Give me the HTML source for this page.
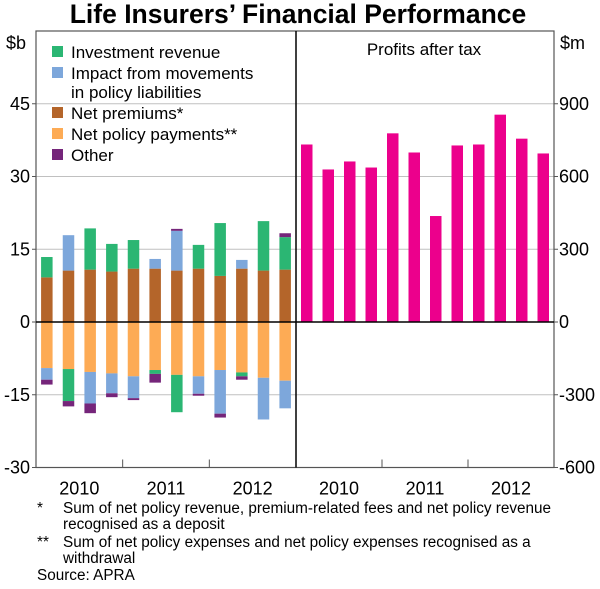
<!DOCTYPE html>
<html><head><meta charset="utf-8"><style>
body{margin:0;background:#fff;}
svg text{font-family:"Liberation Sans",Arial,sans-serif;fill:#000;}
</style></head><body>
<svg id="chart" width="600" height="584" viewBox="0 0 600 584" xmlns="http://www.w3.org/2000/svg">
<text x="298" y="23" text-anchor="middle" font-size="26.5" font-weight="bold">Life Insurers’ Financial Performance</text>
<g id="grid"></g>
<g id="bars"></g>
<g id="axes"></g>
<text x="6" y="49" font-size="18">$b</text>
<text x="560" y="49" font-size="18">$m</text>
<text x="424" y="55" text-anchor="middle" font-size="17">Profits after tax</text>
<g font-size="17">
<rect x="52" y="46" width="11" height="11" fill="#2bb673"/><text x="71" y="58">Investment revenue</text>
<rect x="52" y="67" width="11" height="11" fill="#7da7db"/><text x="71" y="79">Impact from movements</text><text x="71" y="98">in policy liabilities</text>
<rect x="52" y="107" width="11" height="11" fill="#b4652a"/><text x="71" y="119">Net premiums*</text>
<rect x="52" y="128" width="11" height="11" fill="#fdab55"/><text x="71" y="140">Net policy payments**</text>
<rect x="52" y="149" width="11" height="11" fill="#75257a"/><text x="71" y="161">Other</text>
</g>
<g font-size="15.3">
<text x="37" y="513">*</text><text x="63" y="513">Sum of net policy revenue, premium-related fees and net policy revenue</text>
<text x="63" y="529">recognised as a deposit</text>
<text x="37" y="547">**</text><text x="63" y="547">Sum of net policy expenses and net policy expenses recognised as a</text>
<text x="63" y="563">withdrawal</text>
<text x="37" y="580">Source: APRA</text>
</g>
</svg>
<script>
const investment=[4.2,0,8.5,5.7,5.9,0,0,4.9,10.9,0,10.2,6.7];
const investmentNeg=[0,-6.6,0,0,0,-0.8,-7.7,0,0,-0.8,0,0];
const impact=[0,7.3,0,0,0,2.0,8.2,0,0,1.8,0,0];
const impactNeg=[-2.4,0,-6.5,-4.1,-4.5,0,0,-3.6,-9.0,0,-8.6,-5.7];
const premiums=[9.2,10.6,10.8,10.4,11.0,11.0,10.6,11.0,9.5,11.0,10.6,10.8];
const payments=[-9.5,-9.7,-10.3,-10.6,-11.2,-9.9,-10.9,-11.2,-9.9,-10.4,-11.5,-12.1];
const otherPos=[0,0,0,0,0,0,0.4,0,0,0,0,0.8];
const otherNeg=[-1.0,-1.1,-2.0,-0.8,-0.4,-1.8,0,-0.4,-0.8,-0.7,0,0];
const profits=[732,629,662,637,778,699,437,728,732,855,756,695];
const years=["2010","2011","2012"];
const leftTicks=[-30,-15,0,15,30,45];
const rightTicks=[-600,-300,0,300,600,900];

const NS="http://www.w3.org/2000/svg";
const yTop=31,yBot=467.5,L0=36,Lmid=296,R1=554;
const yL=v=>yBot-(v+30)/90*(yBot-yTop);
const yR=v=>yBot-(v+600)/1800*(yBot-yTop);
const slotL=(Lmid-L0)/12,slotR=(R1-Lmid)/12;
const xL=i=>L0+slotL*(i+0.5);
const xR=i=>Lmid+slotR*(i+0.5);
function mk(tag,attrs,parent){const e=document.createElementNS(NS,tag);for(const k in attrs)e.setAttribute(k,attrs[k]);document.getElementById(parent).appendChild(e);return e;}
leftTicks.forEach(t=>{if(t===0||t===-30)return;
 const g=mk('line',{x1:L0,x2:R1,y1:yL(t),y2:yL(t),stroke:'#c0c0c0','stroke-width':1},'grid');
 
 });
const bw=11.5;
const posSeries=[[premiums,'#b4652a','net-premiums'],[investment,'#2bb673','investment-revenue'],[impact,'#7da7db','impact-liabilities'],[otherPos,'#75257a','other']];
const negSeries=[[payments,'#fdab55','net-policy-payments'],[investmentNeg,'#2bb673','investment-revenue'],[impactNeg,'#7da7db','impact-liabilities'],[otherNeg,'#75257a','other']];
for(let i=0;i<12;i++){
 let acc=0;
 posSeries.forEach(s=>{const v=s[0][i];if(v<=0)return;
  const r=mk('rect',{x:xL(i)-bw/2,y:yL(acc+v),width:bw,height:yL(acc)-yL(acc+v),fill:s[1]},'bars');
  
  
  acc+=v;});
 acc=0;
 negSeries.forEach(s=>{const v=s[0][i];if(v>=0)return;
  const r=mk('rect',{x:xL(i)-bw/2,y:yL(acc),width:bw,height:yL(acc+v)-yL(acc),fill:s[1]},'bars');
  
  
  acc+=v;});
}
profits.forEach((v,i)=>{
 const r=mk('rect',{x:xR(i)-bw/2,y:yR(v),width:bw,height:yR(0)-yR(v),fill:'#ec008c'},'bars');
 
 });
const frame=mk('rect',{x:L0,y:yTop,width:R1-L0,height:yBot-yTop,fill:'none',stroke:'#555','stroke-width':1.2},'axes');


const div=mk('line',{x1:Lmid,x2:Lmid,y1:yTop,y2:yBot,stroke:'#000','stroke-width':1.5},'axes');


const z=mk('line',{x1:L0,x2:R1,y1:yL(0),y2:yL(0),stroke:'#000','stroke-width':1.5},'axes');


leftTicks.forEach(t=>{
 const tx=mk('text',{x:30,y:yL(t)+6,'text-anchor':'end','font-size':18},'axes');tx.textContent=t;
 
 
 mk('line',{x1:L0-4,x2:L0,y1:yL(t),y2:yL(t),stroke:'#555'},'axes');});
rightTicks.forEach(t=>{
 const tx=mk('text',{x:559,y:yR(t)+6,'font-size':18},'axes');tx.textContent=t;
 
 
 mk('line',{x1:R1,x2:R1+4,y1:yR(t),y2:yR(t),stroke:'#555'},'axes');});
[[L0,slotL],[Lmid,slotR]].forEach(p=>{
 years.forEach((y,k)=>{
  const tx=mk('text',{x:p[0]+p[1]*(4*k+2),y:yBot+27,'text-anchor':'middle','font-size':18},'axes');tx.textContent=y;
  
  
  if(k>0)mk('line',{x1:p[0]+p[1]*4*k,x2:p[0]+p[1]*4*k,y1:yBot,y2:yBot-8,stroke:'#555'},'axes');});});
</script>
</body></html>
